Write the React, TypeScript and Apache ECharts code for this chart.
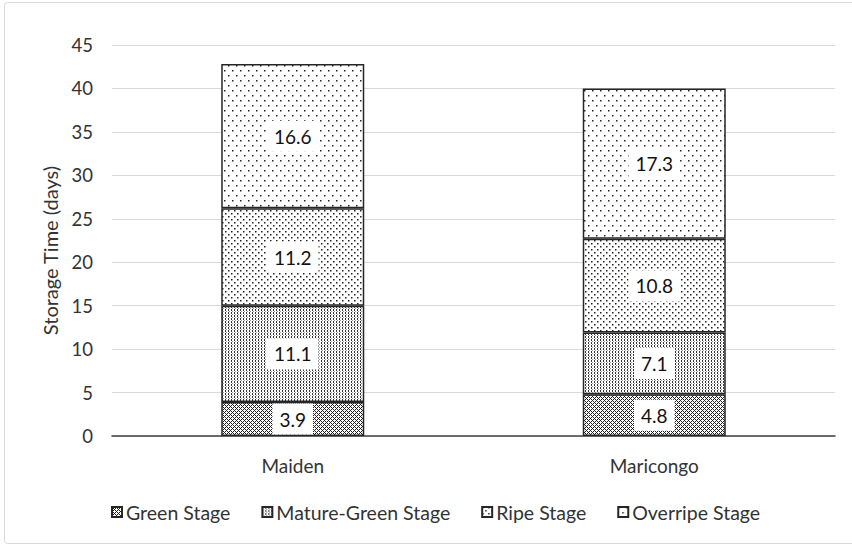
import React, { useEffect, useRef } from "react";
import * as echarts from "echarts";

const categories = ["Maiden", "Maricongo"];
const seriesNames = ["Green Stage", "Mature-Green Stage", "Ripe Stage", "Overripe Stage"];
const greenStage = [3.9, 4.8];
const matureGreenStage = [11.1, 7.1];
const ripeStage = [11.2, 10.8];
const overripeStage = [16.6, 17.3];
const yTicks = [0, 5, 10, 15, 20, 25, 30, 35, 40, 45];

function makeTile(w: number, h: number, draw: (ctx: CanvasRenderingContext2D) => void) {
  const c = document.createElement("canvas");
  c.width = w;
  c.height = h;
  const ctx = c.getContext("2d")!;
  ctx.fillStyle = "#ffffff";
  ctx.fillRect(0, 0, w, h);
  draw(ctx);
  return c;
}

function patterns() {
  const green = makeTile(4, 4, (ctx) => {
    ctx.fillStyle = "#222";
    for (let y = 0; y < 4; y++)
      for (let x = 0; x < 4; x++) {
        if ((x + y) % 4 === 0 || (x - y + 4) % 4 === 0) ctx.fillRect(x, y, 1, 1);
      }
  });
  const mature = makeTile(3, 3, (ctx) => {
    ctx.fillStyle = "#333";
    ctx.fillRect(0, 0, 1, 2);
    ctx.fillStyle = "#999";
    ctx.fillRect(1, 2, 1, 1);
  });
  const ripe = makeTile(6, 6, (ctx) => {
    ctx.fillStyle = "#222";
    ctx.fillRect(0, 0, 1.5, 1.5);
    ctx.fillRect(3, 3, 1.5, 1.5);
  });
  const over = makeTile(8, 10, (ctx) => {
    ctx.fillStyle = "#222";
    ctx.fillRect(0, 0, 1.5, 1.5);
    ctx.fillRect(4, 5, 1.5, 1.5);
  });
  return [green, mature, ripe, over];
}

export default function App() {
  const ref = useRef<HTMLDivElement>(null);
  useEffect(() => {
    if (!ref.current) return;
    const chart = echarts.init(ref.current, null, { renderer: "svg" });
    const pats = patterns();
    const values = [greenStage, matureGreenStage, ripeStage, overripeStage];
    const font = "Lato";
    chart.setOption({
      animation: false,
      textStyle: { fontFamily: font },
      graphic: [
        {
          type: "rect",
          shape: { x: 4.5, y: 2.5, width: 860, height: 541, r: 3 },
          style: { fill: "none", stroke: "#d9d9d9", lineWidth: 1 },
          silent: true,
        },
      ],
      grid: { left: 112, right: 17, top: 45, bottom: 111 },
      legend: {
        top: 497,
        left: 106,
        itemWidth: 10,
        itemHeight: 10,
        itemGap: 31,
        icon: "rect",
        textStyle: { fontSize: 19.5, color: "#333", fontFamily: font, padding: [0, 0, 0, -1] },
        data: seriesNames,
      },
      xAxis: {
        type: "category",
        data: categories,
        axisLine: { lineStyle: { color: "#404040", width: 1.5 } },
        axisTick: { show: false },
        axisLabel: { fontSize: 19, color: "#333", margin: 20, fontFamily: font },
      },
      yAxis: {
        type: "value",
        min: 0,
        max: 45,
        interval: 5,
        name: "Storage Time (days)",
        nameLocation: "middle",
        nameGap: 52,
        nameTextStyle: { fontSize: 20, color: "#333", fontFamily: font, padding: [0, 20, 0, 0] },
        axisLine: { show: false },
        axisTick: { show: false },
        axisLabel: { fontSize: 18.5, color: "#333", margin: 19, fontFamily: font },
        splitLine: { lineStyle: { color: "#d9d9d9", width: 1 } },
      },
      series: seriesNames.map((name, i) => ({
        name,
        type: "bar",
        stack: "total",
        barWidth: 143,
        data: values[i],
        itemStyle: {
          color: { image: pats[i], repeat: "repeat" },
          borderColor: "#262626",
          borderWidth: 1.5,
        },
        label: {
          show: true,
          position: "inside",
          fontSize: 19,
          color: "#111",
          fontFamily: font,
          backgroundColor: "#ffffff",
          padding: [7, 7, 5, 7],
          formatter: (p: any) => p.value.toFixed(1),
        },
      })),
    });
    return () => chart.dispose();
  }, []);
  return (
    <div
      ref={ref}
      style={{ position: "fixed", left: 0, top: 0, width: 852, height: 547, background: "#fff" }}
    />
  );
}
